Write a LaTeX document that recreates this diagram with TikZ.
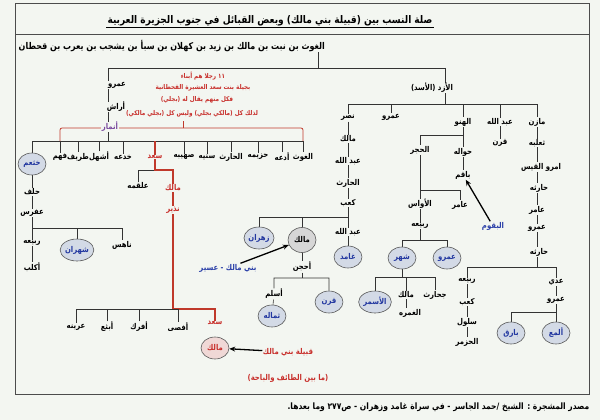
\documentclass[tikz,border=0pt]{standalone}
\usepackage{fontspec}
\newfontfamily\arabicfont[Script=Arabic, FakeStretch=0.86]{DejaVu Sans}
\TeXXeTstate=1
\newcommand{\AR}[1]{\beginR #1\endR}
\usetikzlibrary{shapes.geometric,arrows.meta}
\pgfdeclarelayer{back}
\pgfsetlayers{back,main}
\definecolor{bgc}{HTML}{F3F6F1}
\definecolor{circfill}{HTML}{D3DAE6}
\definecolor{circtext}{HTML}{2237A0}
\definecolor{redt}{HTML}{C8302C}
\definecolor{redl}{HTML}{C0392B}
\definecolor{purp}{HTML}{7A4A9E}
\definecolor{bluet}{HTML}{2A3FA8}
\definecolor{pinkfill}{HTML}{F0D8D6}
\definecolor{grayfill}{HTML}{D6D6D6}
\begin{document}
\begin{tikzpicture}[x=1pt,y=-1pt,
  lab/.style={font=\arabicfont\bfseries\fontsize{8}{9}\selectfont, fill=bgc, inner sep=0.5pt},
  redlab/.style={lab, text=redt},
  bluelab/.style={lab, text=bluet},
  note/.style={font=\arabicfont\bfseries\fontsize{6.6}{7}\selectfont, text=redt, inner sep=0.4pt},
  circ/.style={ellipse, draw=black!65, line width=0.6pt, fill=circfill, text=circtext, font=\arabicfont\bfseries\fontsize{8}{9}\selectfont, minimum width=28pt, minimum height=22pt, inner sep=0pt},
  ln/.style={draw=black!80, line width=0.6pt},
  rln/.style={draw=redl, line width=1.3pt},
  arr/.style={draw=black, line width=1.3pt, -{Stealth[length=6pt,width=5pt]}},
]
\begin{pgfonlayer}{back}
\fill[bgc] (0,0) rectangle (600,420);
\draw[line width=0.7pt, black!70] (15,3) rectangle (589,394);
\draw[line width=0.6pt, black!70] (15,34) -- (589,34);
\end{pgfonlayer}
\useasboundingbox (0,0) rectangle (600,420);

% title
\node[font=\arabicfont\bfseries\fontsize{10.5}{11}\selectfont, inner sep=1pt] (title) at (270,21) {\AR{صلة النسب بين (قبيلة بني مالك) وبعض القبائل في جنوب الجزيرة العربية}};
\draw[line width=0.6pt] (title.south west) -- (title.south east);
\node[lab, anchor=west, font=\arabicfont\bfseries\fontsize{9.3}{10}\selectfont] (sub) at (18,46) {\AR{الغوث بن نبت بن مالك بن زيد بن كهلان بن سبأ بن يشجب بن يعرب بن قحطان}};

\coordinate (subtick) at (318,68);
\coordinate (tbL) at (108,68);
\coordinate (tbR) at (445,68);

% left branch
\node[lab] (amr) at (117,85) {\AR{عمرو}};
\node[lab] (arash) at (116,107) {\AR{أراش}};
\node[lab, text=purp] (anmar) at (110,127) {\AR{أنمار}};

\node[note] (rt1) at (203,76) {\AR{١١ رجلا هم أبناء}};
\node[note] (rt2) at (203,88) {\AR{بجيلة بنت سعد العشيرة القحطانية}};
\node[note] (rt3) at (197,100) {\AR{فكل منهم يقال له (بجلي)}};
\node[note] (rt4) at (192,114) {\AR{لذلك كل (مالكي بجلي) وليس كل (بجلي مالكي)}};

\coordinate (abL) at (32,141);
\coordinate (abR) at (303,141);
\node[circ] (khath) at (32,164) {\AR{خثعم}};
\node[lab] (fahm) at (60,157) {\AR{فهم}};
\node[lab] (tarif) at (78,157) {\AR{طريف}};
\node[lab] (ashhal) at (99,157) {\AR{أشهل}};
\node[lab] (khadaa) at (123,157) {\AR{خدعه}};
\node[redlab] (saad) at (155,157) {\AR{سعد}};
\node[lab] (suhay) at (184,157) {\AR{صهيبه}};
\node[lab] (saniy) at (207,157) {\AR{سنيه}};
\node[lab] (harith) at (231,157) {\AR{الحارث}};
\node[lab] (huzay) at (258,157) {\AR{حزيمه}};
\node[lab] (adaa) at (282,157) {\AR{أدعه}};
\node[lab] (ghawth) at (303,157) {\AR{الغوث}};

\node[lab] (halaf) at (32,192) {\AR{حلف}};
\node[lab] (afras) at (32,213) {\AR{عفرس}};
\coordinate (kbL) at (32,228);
\node[lab] (rabia1) at (32,243) {\AR{ربيعه}};
\node[lab] (akalb) at (32,267) {\AR{أكلب}};
\node[circ, minimum width=30pt] (shahran) at (77,250) {\AR{شهران}};
\node[lab] (nahis) at (122,245) {\AR{ناهس}};

\coordinate (sj) at (155,170);
\node[lab] (alqamah) at (138,186) {\AR{علقمه}};
\node[redlab] (malik1) at (173,188) {\AR{مالك}};
\node[redlab] (nadhir) at (173,210) {\AR{نذير}};

\coordinate (lbL) at (76,309);
\coordinate (rc) at (173,309);
\node[lab] (urayna) at (76,327) {\AR{عرينه}};
\node[lab] (abtha) at (107,327) {\AR{أبثع}};
\node[lab] (afrak) at (139,327) {\AR{أفرك}};
\node[lab] (afsa) at (178,327) {\AR{أفصى}};
\node[redlab] (saad2) at (215,323) {\AR{سعد}};
\node[circ, fill=pinkfill, text=redt] (malik2) at (215,348) {\AR{مالك}};
\node[redlab] (qabila) at (288,352) {\AR{قبيلة بني مالك}};
\node[redlab] (mabayn) at (288,378) {\AR{(ما بين الطائف والباحة)}};

% right branch
\node[lab] (azd) at (432,88) {\AR{الأزد (الأسد)}};
\coordinate (rbL) at (348,104);
\coordinate (rbR) at (537,104);
\node[lab] (nasr) at (348,118) {\AR{نصر}};
\node[lab] (amr2) at (391,117) {\AR{عمرو}};
\node[lab] (hanu) at (463,122) {\AR{الهنو}};
\node[lab] (abd1) at (500,122) {\AR{عبد الله}};
\node[lab] (mazin) at (537,122) {\AR{مازن}};

\node[lab] (malik3) at (348,139) {\AR{مالك}};
\node[lab] (abd2) at (348,161) {\AR{عبد الله}};
\node[lab] (harith2) at (348,183) {\AR{الحارث}};
\node[lab] (kaab) at (348,203) {\AR{كعب}};
\coordinate (kaL) at (259,217);
\node[circ] (zahran) at (259,238) {\AR{زهران}};
\node[circ, fill=grayfill, text=black, minimum height=25pt] (malik4) at (302,240) {\AR{مالك}};
\node[lab] (abd3) at (348,232) {\AR{عبد الله}};
\node[circ] (ghamid) at (348,257) {\AR{غامد}};
\node[lab] (ahjan) at (302,267) {\AR{أحجن}};
\coordinate (ahL) at (274,278);
\node[lab] (aslam) at (274,294) {\AR{أسلم}};
\node[circ] (thumala) at (272,316) {\AR{ثماله}};
\node[circ] (qarn2) at (329,302) {\AR{قرن}};
\node[bluelab] (banimalik) at (228,268) {\AR{بني مالك - عسير}};

\node[lab] (hawala) at (463,152) {\AR{حواله}};
\node[lab] (baqim) at (463,175) {\AR{باقم}};
\node[lab] (hajar) at (420,150) {\AR{الحجر}};
\coordinate (hjb) at (463,135);
\coordinate (hjc) at (420,190);
\node[lab] (amir1) at (460,205) {\AR{عامر}};
\node[lab] (aws) at (420,204) {\AR{الأواس}};
\node[lab] (rabia2) at (420,226) {\AR{ربيعه}};
\coordinate (rbb) at (402,240);
\node[circ] (shahr) at (402,258) {\AR{شهر}};
\node[circ] (amr3) at (447,258) {\AR{عمرو}};
\coordinate (sbb) at (375,277);
\node[circ, minimum width=30pt] (asmar) at (375,302) {\AR{الأسمر}};
\node[lab] (malik5) at (406,295) {\AR{مالك}};
\node[lab] (juh) at (435,295) {\AR{جحارث}};
\node[lab] (ghamra) at (410,313) {\AR{الغمره}};
\node[bluelab] (buqum) at (493,226) {\AR{البقوم}};

\node[lab] (qarn1) at (500,143) {\AR{قرن}};
\node[lab] (thalaba) at (537,143) {\AR{ثعلبه}};
\node[lab] (imru) at (541,167) {\AR{امرو القيس}};
\node[lab] (haritha1) at (539,188) {\AR{حارثه}};
\node[lab] (amir2) at (537,210) {\AR{عامر}};
\node[lab] (amr4) at (537,228) {\AR{عمرو}};
\node[lab] (haritha2) at (539,252) {\AR{حارثه}};
\coordinate (hbL) at (467,267);
\node[lab] (rabia3) at (467,281) {\AR{ربيعه}};
\node[lab] (kaab2) at (467,302) {\AR{كعب}};
\node[lab] (salul) at (467,322) {\AR{سلول}};
\node[lab] (hazmar) at (467,342) {\AR{الحزمر}};
\node[lab] (adi) at (556,282) {\AR{عدي}};
\node[lab] (amr5) at (556,300) {\AR{عمرو}};
\coordinate (abb) at (511,312);
\node[circ] (bariq) at (511,333) {\AR{بارق}};
\node[circ] (almaa) at (556,333) {\AR{ألمع}};

\node[lab, anchor=east, font=\arabicfont\bfseries\fontsize{8.8}{9}\selectfont] (foot) at (590,407) {\AR{مصدر المشجرة : الشيخ /حمد الجاسر - في سراة غامد وزهران - ص٢٧٧ وما بعدها.}};

% connectors
\begin{pgfonlayer}{back}
\draw[ln] (subtick |- sub.south) -- (subtick);
\draw[ln] (tbL) -- (tbR);
\draw[ln] (tbL) -- (tbL |- abL);
\draw[ln] (abL) -- (abR);
\foreach \n in {khath,fahm,tarif,ashhal,khadaa,suhay,saniy,harith,huzay,adaa,ghawth}
  \draw[ln] (\n) -- (\n |- abL);
\draw[rln] (saad) -- (saad |- abL);
\draw[redl, line width=0.8pt, rounded corners=2pt] (60,141) -- (60,128) -- (303,128) -- (303,141);
\draw[redl, line width=0.8pt] (183,128) -- (183,121);
\draw[ln] (khath) -- (halaf) -- (afras) -- (afras |- kbL) -- (nahis |- kbL) -- (nahis);
\draw[ln] (rabia1 |- kbL) -- (akalb);
\draw[ln] (shahran) -- (shahran |- kbL);
\draw[ln] (sj) -| (alqamah);
\draw[rln] (saad) -- (sj) -| (malik1);
\draw[rln] (malik1) -- (nadhir) -- (rc) -| (saad2);
\draw[ln] (lbL) -- (afsa |- lbL);
\foreach \n in {urayna,abtha,afrak,afsa}
  \draw[ln] (\n) -- (\n |- lbL);

\draw[ln] (tbR) -- (tbR |- rbL);
\draw[ln] (rbL) -- (rbR);
\foreach \n in {nasr,amr2,hanu,abd1,mazin}
  \draw[ln] (\n) -- (\n |- rbL);
\draw[ln] (nasr) -- (kaab) -- (kaab |- kaL) -- (kaL) -- (zahran);
\draw[ln] (malik4) -- (malik4 |- kaL);
\draw[ln] (kaab) -- (ghamid);
\draw[ln] (malik4) -- (ahjan) -- (ahjan |- ahL);
\draw[ln] (thumala) -- (aslam) -- (ahL) -- (qarn2 |- ahL) -- (qarn2);
\draw[ln] (hanu) -- (baqim);
\draw[ln] (hajar) |- (hjb);
\draw[ln] (hajar) -- (rabia2) -- (rabia2 |- rbb);
\draw[ln] (hjc) -| (amir1);
\draw[ln] (shahr) -- (rbb) -- (amr3 |- rbb) -- (amr3);
\draw[ln] (shahr) -- (shahr |- sbb);
\draw[ln] (asmar) -- (sbb) -- (juh |- sbb) -- (juh);
\draw[ln] (malik5) -- (malik5 |- sbb);
\draw[ln] (malik5) -- (malik5 |- ghamra);
\draw[ln] (abd1) -- (qarn1);
\draw[ln] (mazin) -- (mazin |- hbL);
\draw[ln] (hbL) -- (adi |- hbL) -- (abb -| adi) -- (abb) -- (bariq);
\draw[ln] (hbL) -- (hazmar);
\draw[ln] (almaa) -- (almaa |- abb);
\end{pgfonlayer}

\draw[arr] (qabila) -- (malik2);
\draw[arr] (banimalik) -- (malik4);
\draw[arr] (buqum) -- (baqim);
\end{tikzpicture}
\end{document}
